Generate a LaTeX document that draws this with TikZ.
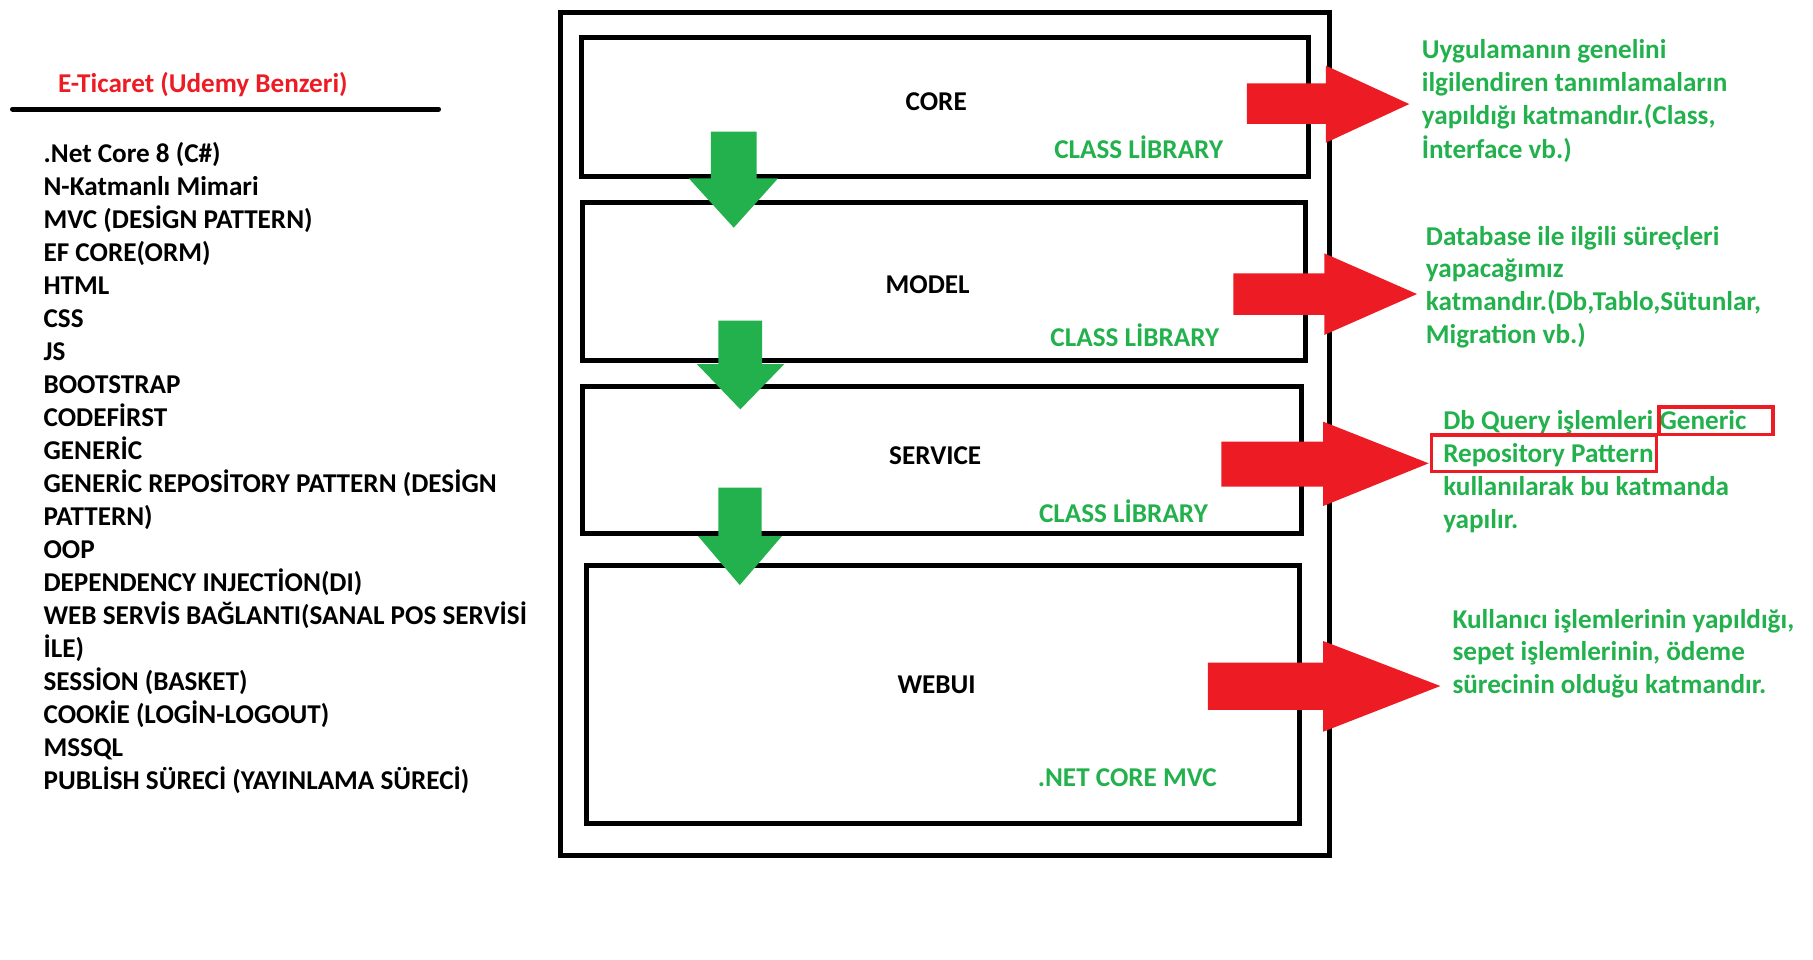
\documentclass[tikz,border=0pt]{standalone}
\usepackage{fontspec}
\setmainfont{Carlito}
\definecolor{rougepaint}{HTML}{ED1C24}
\definecolor{vertpaint}{HTML}{22B14C}

\begin{document}
\begin{tikzpicture}[
    x=1pt, y=-1pt,  % On travaille en pixels, y vers le bas
    every node/.style={inner sep=0pt, font=\bfseries\fontsize{23.5}{28.6}\selectfont},
    couche/.style={draw, line width=4.3pt},
    texte/.style={anchor=base west},
    soustitre/.style={anchor=base east, text=vertpaint},
    note/.style={anchor=base west, text=vertpaint},
    flechebas/.style={fill=vertpaint},
    flechedroite/.style={fill=rougepaint},
    cadre/.style={draw=rougepaint, line width=3pt}
]
% Fond et marges
\path[use as bounding box, fill=white] (0,0) rectangle (1568,830);

% Titre et liste
\node[texte, text=rougepaint] (titre) at (50,79.9) {E-Ticaret (Udemy Benzeri)};
\coordinate (traitG) at (10.8,94.3);
\coordinate (traitD) at (379.3,94.3);
\draw[line width=4.3pt, line cap=round] (traitG) -- (traitD);
\foreach \lbl [count=\i] in {{.Net Core 8 (C\#)}, {N-Katmanlı Mimari}, {MVC (DESİGN PATTERN)},
    {EF CORE(ORM)}, {HTML}, {CSS}, {JS}, {BOOTSTRAP}, {CODEFİRST}, {GENERİC},
    {GENERİC REPOSİTORY PATTERN (DESİGN}, {PATTERN)}, {OOP}, {DEPENDENCY INJECTİON(DI)},
    {WEB SERVİS BAĞLANTI(SANAL POS SERVİSİ}, {İLE)}, {SESSİON (BASKET)},
    {COOKİE (LOGİN-LOGOUT)}, {MSSQL}, {PUBLİSH SÜRECİ (YAYINLAMA SÜRECİ)}}
    \node[texte] (liste\i) at (37.5,{140.4+28.53*(\i-1)}) {\lbl};

% Cadre général et couches
\draw[couche] (484.6,10.8) rectangle (1149.6,739.5);
\draw[couche] (503,32.3) rectangle (1131.8,153);
\draw[couche] (504,175) rectangle (1128.8,312);
\draw[couche] (504,334.4) rectangle (1125.6,461);
\draw[couche] (507.4,489) rectangle (1123.5,712);

\node[anchor=base] (core) at (809.7,95.3) {CORE};
\node[anchor=base] (model) at (802.3,253.8) {MODEL};
\node[anchor=base] (service) at (808.8,401.3) {SERVICE};
\node[anchor=base] (webui) at (810,599.7) {WEBUI};

\node[soustitre] (libcore) at (1058,137) {CLASS LİBRARY};
\node[soustitre] (libmodel) at (1054.7,299.9) {CLASS LİBRARY};
\node[soustitre] (libservice) at (1044.8,452.1) {CLASS LİBRARY};
\node[soustitre] (mvc) at (1052.6,680.3) {.NET CORE MVC};

% Flèches vertes entre les couches
\fill[flechebas] (614.7,113.9) -- (654.4,113.9) -- (654.4,154.2) -- (672.9,154.2)
    -- (634.6,196.9) -- (595.7,154.2) -- (614.7,154.2) -- cycle;
\fill[flechebas] (621.3,277.3) -- (659.2,277.3) -- (659.2,315) -- (678.2,315)
    -- (640.3,354) -- (602.8,315) -- (621.3,315) -- cycle;
\fill[flechebas] (621.3,421.8) -- (658.8,421.8) -- (658.8,463.6) -- (676.3,463.6)
    -- (639.8,506) -- (603.7,463.6) -- (621.3,463.6) -- cycle;

% Flèches rouges vers les explications
\fill[flechedroite] (1078.4,72.1) -- (1146.7,72.1) -- (1146.7,56.8) -- (1218.8,90)
    -- (1146.7,123.4) -- (1146.7,107.2) -- (1078.4,107.2) -- cycle;
\fill[flechedroite] (1066.6,236.4) -- (1145.3,236.4) -- (1145.3,219.1) -- (1225.5,254.3)
    -- (1145.3,289.7) -- (1145.3,272.4) -- (1066.6,272.4) -- cycle;
\fill[flechedroite] (1056.4,382) -- (1144.4,382) -- (1144.4,364.7) -- (1235.6,400.7)
    -- (1144.4,437.6) -- (1144.4,420.9) -- (1056.4,420.9) -- cycle;
\fill[flechedroite] (1044.6,573.1) -- (1144.4,573.1) -- (1144.4,554.4) -- (1245.7,593.3)
    -- (1144.4,632.8) -- (1144.4,614) -- (1044.6,614) -- cycle;

% Explications
\foreach \lbl [count=\i] in {{Uygulamanın genelini}, {ilgilendiren tanımlamaların},
    {yapıldığı katmandır.(Class,}, {İnterface vb.)}}
    \node[note] (notecore\i) at (1229.5,{50.5+28.8*(\i-1)}) {\lbl};
\foreach \lbl [count=\i] in {{Database ile ilgili süreçleri}, {yapacağımız},
    {katmandır.(Db,Tablo,Sütunlar,}, {Migration vb.)}}
    \node[note] (notemodel\i) at (1233,{212+28.4*(\i-1)}) {\lbl};
\foreach \lbl [count=\i] in {{Db Query işlemleri Generic}, {Repository Pattern},
    {kullanılarak bu katmanda}, {yapılır.}}
    \node[note] (noteservice\i) at (1248,{371.1+28.6*(\i-1)}) {\lbl};
\foreach \lbl [count=\i] in {{Kullanıcı işlemlerinin yapıldığı,}, {sepet işlemlerinin, ödeme},
    {sürecinin olduğu katmandır.}}
    \node[note] (notewebui\i) at (1256,{543.5+28.1*(\i-1)}) {\lbl};

% Encadrés rouges
\draw[cadre] (1434.9,351.8) rectangle (1533.5,375.6);
\draw[cadre] (1238.2,376.3) rectangle (1432.6,407.9);
\end{tikzpicture}
\end{document}
